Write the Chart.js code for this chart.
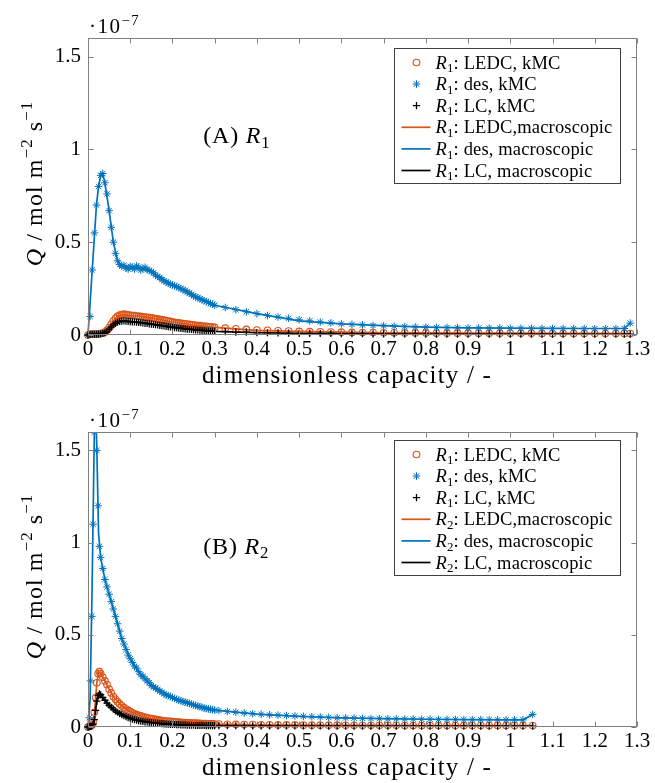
<!DOCTYPE html>
<html><head><meta charset="utf-8">
<script src="https://cdn.jsdelivr.net/npm/chart.js@4.4.1/dist/chart.umd.min.js"></script>
<style>
html,body{margin:0;padding:0;background:#fff;overflow:hidden;}
canvas{display:block;}
</style></head><body>
<canvas id="c1" width="655" height="392"></canvas>
<canvas id="c2" width="655" height="391"></canvas>
<script>
// ---------- Panel A (R1) ----------
const capacityKmcA = [0,0.005,0.01,0.015,0.02,0.025,0.03,0.035,0.04,0.045,0.05,0.055,0.06,0.065,0.07,0.075,0.08,0.085,0.09,0.095,0.1,
  0.105,0.11,0.115,0.12,0.125,0.13,0.135,0.14,0.145,0.15,0.155,0.16,0.165,0.17,0.175,0.18,0.185,0.19,0.195,0.2,
  0.205,0.21,0.215,0.22,0.225,0.23,0.235,0.24,0.245,0.25,0.255,0.26,0.265,0.27,0.275,0.28,0.285,0.29,0.295,0.3,
  0.325,0.35,0.375,0.4,0.425,0.45,0.475,0.5,0.525,0.55,0.575,0.6,0.625,0.65,0.675,0.7,0.725,0.75,0.775,0.8,
  0.825,0.85,0.875,0.9,0.925,0.95,0.975,1,1.025,1.05,1.075,1.1,1.125,1.15,1.175,1.2,1.225,1.25,1.27,1.284];
const desKmcA = [0,0.1,0.35,0.55,0.7,0.8,0.86,0.87,0.82,0.76,0.67,0.58,0.5,0.44,0.4,0.38,0.37,0.375,0.36,0.355,0.37,
  0.365,0.355,0.372,0.366,0.35,0.358,0.365,0.352,0.348,0.342,0.335,0.322,0.315,0.31,0.298,0.292,0.285,0.28,0.273,0.27,
  0.265,0.26,0.256,0.25,0.244,0.24,0.231,0.226,0.219,0.21,0.206,0.2,0.195,0.19,0.185,0.18,0.175,0.17,0.166,0.16,
  0.148,0.136,0.125,0.115,0.105,0.097,0.09,0.082,0.076,0.07,0.065,0.06,0.057,0.054,0.051,0.049,0.047,0.045,0.043,0.042,
  0.041,0.04,0.039,0.038,0.038,0.037,0.037,0.036,0.036,0.036,0.035,0.035,0.035,0.035,0.034,0.034,0.034,0.034,0.035,0.064];
const ledcKmcA = [0,0.004,0.005,0.005,0.005,0.006,0.008,0.01,0.015,0.025,0.04,0.058,0.075,0.09,0.1,0.107,0.11,0.112,0.11,0.108,0.106,
  0.105,0.104,0.102,0.101,0.1,0.098,0.097,0.095,0.094,0.092,0.09,0.088,0.086,0.084,0.082,0.08,0.078,0.075,0.073,0.07,
  0.068,0.066,0.065,0.063,0.062,0.06,0.058,0.057,0.055,0.054,0.052,0.051,0.05,0.048,0.047,0.046,0.044,0.043,0.042,0.041,
  0.037,0.033,0.03,0.027,0.025,0.023,0.021,0.019,0.018,0.017,0.016,0.015,0.014,0.013,0.013,0.012,0.012,0.011,0.011,0.011,
  0.01,0.01,0.01,0.01,0.009,0.009,0.009,0.009,0.009,0.009,0.008,0.008,0.008,0.008,0.008,0.008,0.008,0.008,0.008,0.008];
const lcKmcA = [0,0.003,0.004,0.004,0.004,0.005,0.006,0.008,0.012,0.02,0.03,0.042,0.054,0.063,0.069,0.073,0.075,0.076,0.074,0.073,0.072,
  0.071,0.07,0.069,0.068,0.066,0.065,0.063,0.062,0.06,0.059,0.057,0.056,0.054,0.052,0.05,0.049,0.047,0.045,0.043,0.042,
  0.04,0.039,0.037,0.036,0.034,0.033,0.032,0.031,0.03,0.029,0.028,0.027,0.026,0.025,0.024,0.023,0.022,0.021,0.0205,0.02,
  0.018,0.016,0.015,0.013,0.012,0.011,0.01,0.009,0.009,0.008,0.008,0.007,0.007,0.007,0.006,0.006,0.006,0.006,0.006,0.005,
  0.005,0.005,0.005,0.005,0.005,0.005,0.005,0.005,0.005,0.005,0.004,0.004,0.004,0.004,0.004,0.004,0.004,0.004,0.004,0.004];
const capacityMacroA = [0,0.01,0.02,0.025,0.03,0.035,0.04,0.05,0.06,0.07,0.08,0.1,0.12,0.15,0.2,0.25,0.3,0.4,0.5,0.6,0.7,0.8,0.9,1,1.1,1.2,1.27,1.284];
const desMacroA = [0,0.35,0.7,0.8,0.86,0.87,0.82,0.67,0.5,0.4,0.37,0.36,0.36,0.34,0.27,0.21,0.16,0.115,0.076,0.06,0.05,0.042,0.038,0.037,0.036,0.035,0.035,0.064];
const ledcMacroA = [0,0.005,0.005,0.006,0.008,0.01,0.015,0.04,0.075,0.1,0.11,0.106,0.101,0.092,0.07,0.054,0.041,0.025,0.019,0.015,0.012,0.011,0.01,0.01,0.009,0.009,0.008,0.008];
const lcMacroA = [0,0.004,0.004,0.005,0.006,0.008,0.012,0.03,0.054,0.069,0.075,0.072,0.068,0.059,0.042,0.029,0.02,0.013,0.009,0.007,0.006,0.005,0.005,0.005,0.005,0.004,0.004,0.004];
const labelsA = ['R₁: LEDC, kMC','R₁: des, kMC','R₁: LC, kMC','R₁: LEDC,macroscopic','R₁: des, macroscopic','R₁: LC, macroscopic'];

// ---------- Panel B (R2) ----------
const capacityKmcB = [0,0.003,0.006,0.009,0.012,0.015,0.018,0.021,0.024,0.027,0.03,0.035,0.04,0.045,0.05,0.055,0.06,0.065,0.07,0.075,0.08,0.085,0.09,0.095,0.1,
  0.105,0.11,0.115,0.12,0.125,0.13,0.135,0.14,0.145,0.15,0.155,0.16,0.165,0.17,0.175,0.18,0.185,0.19,0.195,0.2,
  0.205,0.21,0.215,0.22,0.225,0.23,0.235,0.24,0.245,0.25,0.255,0.26,0.265,0.27,0.275,0.28,0.285,0.29,0.295,0.3,
  0.31,0.33,0.35,0.37,0.39,0.41,0.43,0.45,0.47,0.49,0.51,0.53,0.55,0.57,0.59,0.61,0.63,0.65,0.67,0.69,
  0.71,0.73,0.75,0.77,0.79,0.81,0.83,0.85,0.87,0.89,0.91,0.93,0.95,0.97,0.99,1.01,1.03,1.053];
const desKmcB = [0,0.05,0.25,0.6,1.1,1.6,1.75,1.5,1.2,0.98,0.92,0.86,0.8,0.76,0.72,0.68,0.64,0.6,0.56,0.52,0.48,0.45,0.42,0.39,0.37,
  0.35,0.33,0.32,0.3,0.283,0.275,0.262,0.25,0.24,0.225,0.218,0.21,0.205,0.195,0.188,0.18,0.173,0.17,0.165,0.16,
  0.155,0.15,0.146,0.142,0.138,0.135,0.131,0.128,0.124,0.12,0.116,0.113,0.11,0.106,0.103,0.1,0.098,0.096,0.094,0.092,
  0.089,0.084,0.08,0.076,0.072,0.069,0.066,0.064,0.062,0.06,0.058,0.056,0.054,0.052,0.05,0.049,0.048,0.047,0.046,0.045,
  0.044,0.044,0.043,0.043,0.042,0.042,0.041,0.041,0.041,0.04,0.04,0.04,0.04,0.039,0.039,0.039,0.039,0.068];
const ledcKmcB = [0,0.003,0.005,0.01,0.03,0.08,0.16,0.24,0.29,0.3,0.29,0.27,0.25,0.23,0.205,0.185,0.165,0.15,0.137,0.125,0.115,0.105,0.097,0.09,0.083,
  0.077,0.072,0.067,0.063,0.06,0.056,0.053,0.05,0.047,0.045,0.043,0.041,0.039,0.037,0.035,0.034,0.032,0.031,0.03,0.029,
  0.028,0.027,0.026,0.025,0.0245,0.024,0.023,0.022,0.0215,0.021,0.0205,0.02,0.0195,0.019,0.0185,0.018,0.0175,0.017,0.0165,0.016,
  0.016,0.015,0.014,0.013,0.013,0.012,0.012,0.011,0.011,0.011,0.01,0.01,0.01,0.01,0.01,0.009,0.009,0.009,0.009,0.009,
  0.009,0.009,0.008,0.008,0.008,0.008,0.008,0.008,0.008,0.008,0.008,0.008,0.008,0.008,0.008,0.008,0.008,0.008];
const lcKmcB = [0,0.002,0.003,0.005,0.015,0.04,0.09,0.14,0.17,0.18,0.175,0.16,0.145,0.13,0.118,0.107,0.097,0.088,0.08,0.073,0.067,0.061,0.056,0.051,0.047,
  0.043,0.04,0.037,0.035,0.032,0.03,0.028,0.027,0.025,0.024,0.022,0.021,0.02,0.019,0.018,0.017,0.016,0.015,0.0145,0.014,
  0.0135,0.013,0.0125,0.012,0.0115,0.011,0.0105,0.01,0.0098,0.0095,0.0092,0.009,0.0088,0.0085,0.0082,0.008,0.0079,0.0078,0.0076,0.0075,
  0.0072,0.007,0.0068,0.0066,0.0064,0.0062,0.006,0.006,0.0058,0.0056,0.0055,0.0054,0.0053,0.0052,0.005,0.005,0.005,0.005,0.005,0.005,
  0.005,0.005,0.005,0.005,0.005,0.005,0.005,0.005,0.005,0.005,0.005,0.005,0.005,0.005,0.005,0.005,0.005,0.005];
const capacityMacroB = [0,0.005,0.01,0.015,0.018,0.021,0.025,0.03,0.04,0.05,0.06,0.08,0.1,0.12,0.15,0.2,0.25,0.3,0.4,0.5,0.6,0.7,0.8,0.9,1,1.03,1.053];
const desMacroB = [0,0.15,0.8,1.6,1.75,1.5,1.05,0.92,0.8,0.72,0.64,0.48,0.37,0.3,0.225,0.16,0.12,0.092,0.07,0.058,0.05,0.045,0.042,0.04,0.039,0.039,0.068];
const ledcMacroB = [0,0.004,0.012,0.06,0.16,0.24,0.3,0.29,0.25,0.205,0.165,0.115,0.083,0.063,0.045,0.029,0.021,0.016,0.012,0.01,0.009,0.009,0.008,0.008,0.008,0.008,0.008];
const lcMacroB = [0,0.003,0.007,0.03,0.09,0.14,0.18,0.175,0.145,0.118,0.097,0.067,0.047,0.035,0.024,0.014,0.0095,0.0075,0.0062,0.0052,0.005,0.005,0.005,0.005,0.005,0.005,0.005];
const labelsB = ['R₁: LEDC, kMC','R₁: des, kMC','R₁: LC, kMC','R₂: LEDC,macroscopic','R₂: des, macroscopic','R₂: LC, macroscopic'];

// ---------- shared texts / ticks ----------
const xTitle = 'dimensionless capacity / -';
const yTitle = 'Q / mol m⁻² s⁻¹';
const yScaleLabel = '·10⁻⁷';
const panelTitles = ['(A) R₁', '(B) R₂'];
const xTickStep = 0.1, yTickStep = 0.5;

const ORANGE = '#D95319', BLUE = '#0072BD', BLACK = '#000000';
const SERIF = "'Liberation Serif','Times New Roman',serif";

function pts(xs, ys) { return xs.map((x, i) => ({ x: x, y: ys[i] })); }

function parseRich(str, size) {
  const parts = []; const subs = { '₁': '1', '₂': '2' };
  const sups = { '⁻': '−', '¹': '1', '²': '2', '⁷': '7' };
  let buf = '';
  const flush = () => { if (buf) { parts.push({ text: buf, size: size }); buf = ''; } };
  for (let i = 0; i < str.length; i++) {
    const ch = str[i];
    if (subs[ch]) { flush(); parts.push({ text: subs[ch], size: size * 0.7, shift: size * 0.2 }); }
    else if (sups[ch]) {
      flush(); let t = '';
      while (i < str.length && sups[str[i]]) { t += sups[str[i]]; i++; }
      i--; parts.push({ text: t, size: size * 0.7, shift: -size * 0.4 });
    }
    else if ((ch === 'R' || ch === 'Q') && (i + 1 >= str.length || subs[str[i + 1]] || str[i + 1] === ' ')) {
      flush(); parts.push({ text: ch, size: size, italic: true });
    }
    else buf += ch;
  }
  flush(); return parts;
}
function setFont(ctx, p, sp) { ctx.font = (p.italic ? 'italic ' : '') + p.size + 'px ' + SERIF; ctx.letterSpacing = (sp || 0) + 'px'; }
function richWidth(ctx, parts, sp) { let w = 0; parts.forEach(p => { setFont(ctx, p, sp); w += ctx.measureText(p.text).width; }); ctx.letterSpacing = '0px'; return w; }
function richDraw(ctx, parts, x, y, sp) {
  ctx.textAlign = 'left'; ctx.textBaseline = 'alphabetic'; ctx.fillStyle = '#000';
  let cx = x;
  parts.forEach(p => { setFont(ctx, p, sp); ctx.fillText(p.text, cx, y + (p.shift || 0)); cx += ctx.measureText(p.text).width; });
  ctx.letterSpacing = '0px';
  return cx;
}
function drawMarker(ctx, style, x, y, r, color, bw) {
  ctx.save(); ctx.strokeStyle = color; ctx.lineWidth = bw; ctx.beginPath();
  if (style === 'circle') { ctx.arc(x, y, r, 0, 2 * Math.PI); }
  else if (style === 'cross') { ctx.moveTo(x - r, y); ctx.lineTo(x + r, y); ctx.moveTo(x, y - r); ctx.lineTo(x, y + r); }
  else { for (let k = 0; k < 4; k++) { const an = k * Math.PI / 4; ctx.moveTo(x + r * Math.sin(an), y - r * Math.cos(an)); ctx.lineTo(x - r * Math.sin(an), y + r * Math.cos(an)); } }
  ctx.stroke(); ctx.restore();
}

function makeFramePlugin(cfg) {
  return {
    id: 'frame',
    afterDraw(chart) {
      const ctx = chart.ctx, a = chart.chartArea, xs = chart.scales.x, ys = chart.scales.y;
      ctx.save();
      // frame + inner ticks
      ctx.strokeStyle = '#808080'; ctx.lineWidth = 1;
      const L = Math.round(a.left) + 0.5, R = Math.round(a.right) - 0.5, T = Math.round(a.top) + 0.5, B = Math.round(a.bottom) - 0.5;
      ctx.strokeRect(L, T, R - L, B - T);
      ctx.beginPath();
      xs.ticks.forEach(t => { const px = Math.round(xs.getPixelForValue(t.value)) + 0.5; ctx.moveTo(px, B); ctx.lineTo(px, B - 5); ctx.moveTo(px, T); ctx.lineTo(px, T + 5); });
      ys.ticks.forEach(t => { const py = Math.round(ys.getPixelForValue(t.value)) + 0.5; ctx.moveTo(L, py); ctx.lineTo(L + 5, py); ctx.moveTo(R, py); ctx.lineTo(R - 5, py); });
      ctx.stroke();
      // exponent label
      richDraw(ctx, parseRich(yScaleLabel, 21), a.left + 1, a.top - 5, 1.5);
      // panel title
      richDraw(ctx, parseRich(cfg.panel, 24), xs.getPixelForValue(cfg.panelAt[0]), ys.getPixelForValue(cfg.panelAt[1]), 0.8);
      // y title (rotated)
      const yp = parseRich(yTitle, 24);
      const w = richWidth(ctx, yp, 1.1);
      ctx.save(); ctx.translate(42, (a.top + a.bottom) / 2 - 3); ctx.rotate(-Math.PI / 2);
      richDraw(ctx, yp, -w / 2, 0, 1.1); ctx.restore();
      // x title
      const xp = parseRich(xTitle, 25);
      const xw = richWidth(ctx, xp, 1.2);
      richDraw(ctx, xp, 347 - xw / 2, cfg.xTitleBase, 1.2);
      // legend
      const bw = 226, bh = 135, bx = Math.round(a.right) - 17 - bw + 0.5, by = 48.5;
      ctx.fillStyle = '#fff'; ctx.fillRect(bx, by, bw, bh);
      ctx.strokeStyle = '#404040'; ctx.lineWidth = 1; ctx.strokeRect(bx, by, bw, bh);
      chart.data.datasets.forEach((ds, i) => {
        const cy = by + 14 + i * 21.6;
        if (ds.showLine) {
          ctx.save(); ctx.strokeStyle = ds.borderColor; ctx.lineWidth = ds.borderWidth;
          ctx.beginPath(); ctx.moveTo(bx + 7, cy); ctx.lineTo(bx + 36, cy); ctx.stroke(); ctx.restore();
        } else {
          drawMarker(ctx, ds.pointStyle, bx + 22, cy, ds.pointRadius, ds.borderColor, ds.pointBorderWidth);
        }
        richDraw(ctx, parseRich(ds.label, 18.5), bx + 41, cy + 6, 0.15);
      });
      ctx.restore();
    }
  };
}

function makeChart(id, cfg) {
  const clipTop = { left: false, right: false, bottom: false, top: 0 };
  return new Chart(document.getElementById(id), {
    type: 'scatter',
    data: {
      datasets: [
        { label: cfg.labels[0], data: pts(cfg.capK, cfg.ledcK), showLine: false, pointStyle: 'circle', pointRadius: 3.3, pointBorderWidth: 1.1, borderColor: ORANGE, backgroundColor: 'rgba(0,0,0,0)', order: 3, clip: clipTop },
        { label: cfg.labels[1], data: pts(cfg.capK, cfg.desK), showLine: false, pointStyle: 'star', pointRadius: 3.8, pointBorderWidth: 1, borderColor: BLUE, backgroundColor: BLUE, order: 2, clip: clipTop },
        { label: cfg.labels[2], data: pts(cfg.capK, cfg.lcK), showLine: false, pointStyle: 'cross', pointRadius: 3.6, pointBorderWidth: 1.3, borderColor: BLACK, backgroundColor: BLACK, order: 1, clip: clipTop },
        { label: cfg.labels[3], data: pts(cfg.capM, cfg.ledcM), showLine: true, borderColor: ORANGE, borderWidth: 1.7, pointRadius: 0, tension: 0, order: 6, clip: clipTop },
        { label: cfg.labels[4], data: pts(cfg.capM, cfg.desM), showLine: true, borderColor: BLUE, borderWidth: 1.7, pointRadius: 0, tension: 0, order: 5, clip: clipTop },
        { label: cfg.labels[5], data: pts(cfg.capM, cfg.lcM), showLine: true, borderColor: BLACK, borderWidth: 1.7, pointRadius: 0, tension: 0, order: 4, clip: clipTop }
      ]
    },
    options: {
      responsive: false, animation: false, events: [],
      layout: { padding: { top: cfg.top, right: 18, left: 0, bottom: 0 } },
      plugins: { legend: { display: false }, tooltip: { enabled: false } },
      scales: {
        x: {
          type: 'linear', min: 0, max: 1.3,
          grid: { display: false, drawTicks: false }, border: { display: false },
          ticks: { stepSize: xTickStep, autoSkip: false, maxRotation: 0, padding: 2, color: '#000', font: { family: SERIF, size: 21 }, callback: v => String(Math.round(v * 10) / 10) },
          title: { display: false },
          afterFit: s => { s.height = cfg.xh; }
        },
        y: {
          type: 'linear', min: 0, max: 1.6,
          grid: { display: false, drawTicks: false }, border: { display: false },
          ticks: { stepSize: yTickStep, includeBounds: false, padding: 7, color: '#000', font: { family: SERIF, size: 21 }, callback: v => String(Math.round(v * 10) / 10) },
          afterFit: s => { s.width = 88; }
        }
      }
    },
    plugins: [makeFramePlugin(cfg)]
  });
}

makeChart('c1', { labels: labelsA, capK: capacityKmcA, desK: desKmcA, ledcK: ledcKmcA, lcK: lcKmcA,
  capM: capacityMacroA, desM: desMacroA, ledcM: ledcMacroA, lcM: lcMacroA,
  top: 38, xh: 392 - 335, xTitleBase: 383, panel: panelTitles[0], panelAt: [0.273, 1.035] });
makeChart('c2', { labels: labelsB, capK: capacityKmcB, desK: desKmcB, ledcK: ledcKmcB, lcK: lcKmcB,
  capM: capacityMacroB, desM: desMacroB, ledcM: ledcMacroB, lcM: lcMacroB,
  top: 40, xh: 391 - 335, xTitleBase: 383, panel: panelTitles[1], panelAt: [0.273, 0.94] });
</script>
</body></html>
